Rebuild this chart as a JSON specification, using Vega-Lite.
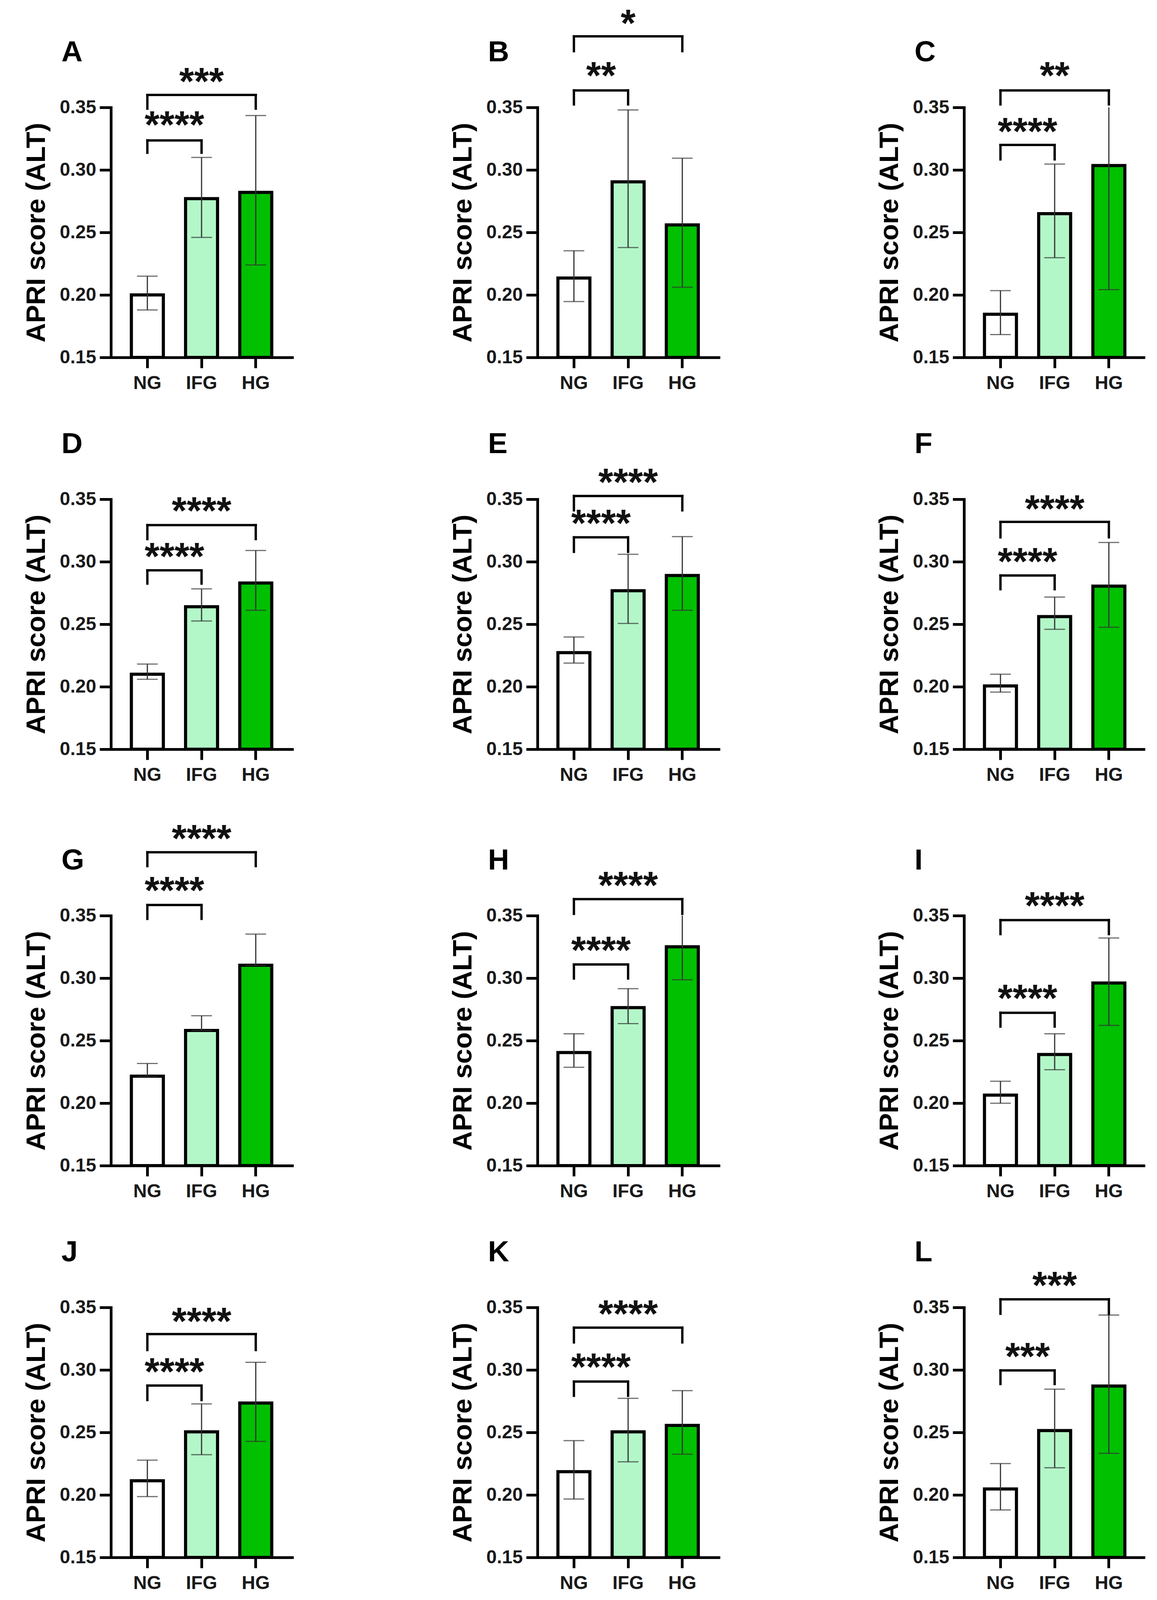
{
  "$schema": "https://vega.github.io/schema/vega-lite/v6.json",
  "background": "white",
  "padding": {"left": 59, "top": 14, "right": 0, "bottom": 0},
  "config": {
    "font": "Liberation Sans",
    "view": {"stroke": null},
    "axis": {
      "grid": false,
      "domainColor": "black",
      "domainWidth": 7,
      "domainCap": "square",
      "tickColor": "black",
      "tickWidth": 7,
      "tickSize": 29,
      "labelFont": "Liberation Sans",
      "labelFontSize": 48,
      "labelFontWeight": "bold",
      "labelColor": "#1a1a1a",
      "titleFont": "Liberation Sans",
      "titleColor": "black"
    },
    "axisX": {"labelAngle": 0, "labelPadding": 15, "tickSize": 27},
    "axisY": {"labelPadding": 9, "titleFontSize": 69, "titleFontWeight": "bold", "titlePadding": 24},
    "bar": {"stroke": "black", "strokeWidth": 8},
    "tick": {"color": "#333333", "thickness": 3},
    "rule": {"color": "black", "strokeWidth": 6, "strokeCap": "square"},
    "text": {"font": "Liberation Sans", "fontWeight": "bold", "baseline": "alphabetic", "color": "#111111"}
  },
  "datasets": {
    "panels": [
      {"panel": "A", "group": "NG", "mean": 0.200, "lo": 0.188, "hi": 0.215},
      {"panel": "A", "group": "IFG", "mean": 0.277, "lo": 0.246, "hi": 0.310},
      {"panel": "A", "group": "HG", "mean": 0.282, "lo": 0.224, "hi": 0.3435},
      {"panel": "A", "from": "NG", "to": "HG", "line": 0.360, "leg": 0.349, "stars": "***", "starY": 0.3734},
      {"panel": "A", "from": "NG", "to": "IFG", "line": 0.3236, "leg": 0.3137, "stars": "****", "starY": 0.3388},
      {"panel": "B", "group": "NG", "mean": 0.2135, "lo": 0.1947, "hi": 0.2353},
      {"panel": "B", "group": "IFG", "mean": 0.2905, "lo": 0.2379, "hi": 0.348},
      {"panel": "B", "group": "HG", "mean": 0.256, "lo": 0.2062, "hi": 0.3094},
      {"panel": "B", "from": "NG", "to": "HG", "line": 0.4069, "leg": 0.395, "stars": "*", "starY": 0.420},
      {"panel": "B", "from": "NG", "to": "IFG", "line": 0.3636, "leg": 0.3524, "stars": "**", "starY": 0.378},
      {"panel": "C", "group": "NG", "mean": 0.1845, "lo": 0.1683, "hi": 0.2034},
      {"panel": "C", "group": "IFG", "mean": 0.265, "lo": 0.2298, "hi": 0.3047},
      {"panel": "C", "group": "HG", "mean": 0.3035, "lo": 0.2042, "hi": 0.4028},
      {"panel": "C", "from": "NG", "to": "HG", "line": 0.3636, "leg": 0.3524, "stars": "**", "starY": 0.378},
      {"panel": "C", "from": "NG", "to": "IFG", "line": 0.320, "leg": 0.3084, "stars": "****", "starY": 0.3334},
      {"panel": "D", "group": "NG", "mean": 0.210, "lo": 0.2059, "hi": 0.2181},
      {"panel": "D", "group": "IFG", "mean": 0.264, "lo": 0.2526, "hi": 0.2783},
      {"panel": "D", "group": "HG", "mean": 0.283, "lo": 0.2612, "hi": 0.309},
      {"panel": "D", "from": "NG", "to": "HG", "line": 0.3293, "leg": 0.3181, "stars": "****", "starY": 0.3435},
      {"panel": "D", "from": "NG", "to": "IFG", "line": 0.2931, "leg": 0.2825, "stars": "****", "starY": 0.3069},
      {"panel": "E", "group": "NG", "mean": 0.2273, "lo": 0.2189, "hi": 0.2398},
      {"panel": "E", "group": "IFG", "mean": 0.2768, "lo": 0.2506, "hi": 0.3059},
      {"panel": "E", "group": "HG", "mean": 0.289, "lo": 0.2612, "hi": 0.3201},
      {"panel": "E", "from": "NG", "to": "HG", "line": 0.3526, "leg": 0.3411, "stars": "****", "starY": 0.3663},
      {"panel": "E", "from": "NG", "to": "IFG", "line": 0.3195, "leg": 0.3079, "stars": "****", "starY": 0.3333},
      {"panel": "F", "group": "NG", "mean": 0.2006, "lo": 0.1957, "hi": 0.210},
      {"panel": "F", "group": "IFG", "mean": 0.2561, "lo": 0.2459, "hi": 0.2717},
      {"panel": "F", "group": "HG", "mean": 0.2805, "lo": 0.2476, "hi": 0.3154},
      {"panel": "F", "from": "NG", "to": "HG", "line": 0.3319, "leg": 0.3195, "stars": "****", "starY": 0.3449},
      {"panel": "F", "from": "NG", "to": "IFG", "line": 0.289, "leg": 0.278, "stars": "****", "starY": 0.3028},
      {"panel": "G", "group": "NG", "mean": 0.2216, "lo": 0.2216, "hi": 0.2317},
      {"panel": "G", "group": "IFG", "mean": 0.2581, "lo": 0.2581, "hi": 0.2699},
      {"panel": "G", "group": "HG", "mean": 0.3103, "lo": 0.3103, "hi": 0.3352},
      {"panel": "G", "from": "NG", "to": "HG", "line": 0.4007, "leg": 0.3896, "stars": "****", "starY": 0.4143},
      {"panel": "G", "from": "NG", "to": "IFG", "line": 0.3585, "leg": 0.3474, "stars": "****", "starY": 0.3727},
      {"panel": "H", "group": "NG", "mean": 0.2405, "lo": 0.2287, "hi": 0.2555},
      {"panel": "H", "group": "IFG", "mean": 0.2764, "lo": 0.2636, "hi": 0.2916},
      {"panel": "H", "group": "HG", "mean": 0.3251, "lo": 0.2987, "hi": 0.3515},
      {"panel": "H", "from": "NG", "to": "HG", "line": 0.3632, "leg": 0.3514, "stars": "****", "starY": 0.3768},
      {"panel": "H", "from": "NG", "to": "IFG", "line": 0.3109, "leg": 0.2997, "stars": "****", "starY": 0.325},
      {"panel": "I", "group": "NG", "mean": 0.2064, "lo": 0.1999, "hi": 0.2175},
      {"panel": "I", "group": "IFG", "mean": 0.2389, "lo": 0.2267, "hi": 0.2555},
      {"panel": "I", "group": "HG", "mean": 0.2961, "lo": 0.2622, "hi": 0.3321},
      {"panel": "I", "from": "NG", "to": "HG", "line": 0.3464, "leg": 0.3352, "stars": "****", "starY": 0.3606},
      {"panel": "I", "from": "NG", "to": "IFG", "line": 0.2723, "leg": 0.2612, "stars": "****", "starY": 0.2865},
      {"panel": "J", "group": "NG", "mean": 0.2113, "lo": 0.1987, "hi": 0.2278},
      {"panel": "J", "group": "IFG", "mean": 0.2505, "lo": 0.2322, "hi": 0.2728},
      {"panel": "J", "group": "HG", "mean": 0.2735, "lo": 0.2428, "hi": 0.3061},
      {"panel": "J", "from": "NG", "to": "HG", "line": 0.3287, "leg": 0.3159, "stars": "****", "starY": 0.3415},
      {"panel": "J", "from": "NG", "to": "IFG", "line": 0.2875, "leg": 0.2759, "stars": "****", "starY": 0.3013},
      {"panel": "K", "group": "NG", "mean": 0.2186, "lo": 0.1967, "hi": 0.2434},
      {"panel": "K", "group": "IFG", "mean": 0.2505, "lo": 0.2265, "hi": 0.2773},
      {"panel": "K", "group": "HG", "mean": 0.2556, "lo": 0.2326, "hi": 0.2834},
      {"panel": "K", "from": "NG", "to": "HG", "line": 0.3338, "leg": 0.322, "stars": "****", "starY": 0.3476},
      {"panel": "K", "from": "NG", "to": "IFG", "line": 0.2907, "leg": 0.2793, "stars": "****", "starY": 0.3049},
      {"panel": "L", "group": "NG", "mean": 0.2048, "lo": 0.188, "hi": 0.2251},
      {"panel": "L", "group": "IFG", "mean": 0.2515, "lo": 0.2217, "hi": 0.2846},
      {"panel": "L", "group": "HG", "mean": 0.2871, "lo": 0.2333, "hi": 0.3439},
      {"panel": "L", "from": "NG", "to": "HG", "line": 0.3565, "leg": 0.3449, "stars": "***", "starY": 0.3703},
      {"panel": "L", "from": "NG", "to": "IFG", "line": 0.2996, "leg": 0.2887, "stars": "***", "starY": 0.3135}
    ]
  },
  "data": {"name": "panels"},
  "spacing": 94,
  "vconcat": [
    {"bounds": "flush", "spacing": 628, "hconcat": [
      {"transform": [{"filter": {"field": "panel", "equal": "A"}}], "width": 464, "height": 640, "layer": [
        {"transform": [{"filter": "isValid(datum.mean)"}], "mark": "bar", "encoding": {"x": {"field": "group", "type": "nominal", "title": null, "scale": {"domain": ["NG", "IFG", "HG"], "paddingInner": 0.41, "paddingOuter": 0.377}}, "y": {"field": "mean", "type": "quantitative", "title": "APRI score (ALT)", "scale": {"domain": [0.15, 0.35], "zero": false, "nice": false}, "axis": {"values": [0.15, 0.2, 0.25, 0.3, 0.35], "format": ".2f"}}, "y2": {"datum": 0.15}, "fill": {"field": "group", "type": "nominal", "scale": {"domain": ["NG", "IFG", "HG"], "range": ["#ffffff", "#b3f7c8", "#00c000"]}, "legend": null}}},
        {"transform": [{"filter": "isValid(datum.mean)"}], "mark": {"type": "rule", "color": "#333333", "strokeWidth": 3, "strokeCap": "butt", "clip": true}, "encoding": {"x": {"field": "group", "type": "nominal", "scale": {"domain": ["NG", "IFG", "HG"]}}, "y": {"field": "lo", "type": "quantitative"}, "y2": {"field": "hi"}}},
        {"transform": [{"filter": "isValid(datum.mean)"}, {"fold": ["lo", "hi"], "as": ["end", "val"]}], "mark": {"type": "tick", "size": 53, "clip": true}, "encoding": {"x": {"field": "group", "type": "nominal", "scale": {"domain": ["NG", "IFG", "HG"]}}, "y": {"field": "val", "type": "quantitative"}}},
        {"transform": [{"filter": "isValid(datum.line)"}], "mark": "rule", "encoding": {"x": {"field": "from", "type": "nominal", "scale": {"domain": ["NG", "IFG", "HG"]}}, "x2": {"field": "to"}, "y": {"field": "line", "type": "quantitative"}}},
        {"transform": [{"filter": "isValid(datum.line)"}, {"fold": ["from", "to"], "as": ["end", "grp"]}], "mark": "rule", "encoding": {"x": {"field": "grp", "type": "nominal", "scale": {"domain": ["NG", "IFG", "HG"]}}, "y": {"field": "line", "type": "quantitative"}, "y2": {"field": "leg"}}},
        {"transform": [{"filter": "datum.to === 'HG'"}], "mark": {"type": "text", "fontSize": 98, "align": "center", "dx": 138.8, "dy": 42}, "encoding": {"x": {"field": "from", "type": "nominal", "scale": {"domain": ["NG", "IFG", "HG"]}}, "y": {"field": "starY", "type": "quantitative"}, "text": {"field": "stars"}}},
        {"transform": [{"filter": "datum.to === 'IFG'"}], "mark": {"type": "text", "fontSize": 98, "align": "center", "dx": 69.4, "dy": 42}, "encoding": {"x": {"field": "from", "type": "nominal", "scale": {"domain": ["NG", "IFG", "HG"]}}, "y": {"field": "starY", "type": "quantitative"}, "text": {"field": "stars"}}},
        {"transform": [{"filter": "datum.group === 'NG'"}], "mark": {"type": "text", "fontSize": 75, "align": "left", "color": "black", "dx": -220}, "encoding": {"x": {"field": "group", "type": "nominal", "scale": {"domain": ["NG", "IFG", "HG"]}}, "y": {"datum": 0.387}, "text": {"field": "panel"}}}
      ]},
      {"transform": [{"filter": {"field": "panel", "equal": "B"}}], "width": 464, "height": 640, "layer": [
        {"transform": [{"filter": "isValid(datum.mean)"}], "mark": "bar", "encoding": {"x": {"field": "group", "type": "nominal", "title": null, "scale": {"domain": ["NG", "IFG", "HG"], "paddingInner": 0.41, "paddingOuter": 0.377}}, "y": {"field": "mean", "type": "quantitative", "title": "APRI score (ALT)", "scale": {"domain": [0.15, 0.35], "zero": false, "nice": false}, "axis": {"values": [0.15, 0.2, 0.25, 0.3, 0.35], "format": ".2f"}}, "y2": {"datum": 0.15}, "fill": {"field": "group", "type": "nominal", "scale": {"domain": ["NG", "IFG", "HG"], "range": ["#ffffff", "#b3f7c8", "#00c000"]}, "legend": null}}},
        {"transform": [{"filter": "isValid(datum.mean)"}], "mark": {"type": "rule", "color": "#333333", "strokeWidth": 3, "strokeCap": "butt", "clip": true}, "encoding": {"x": {"field": "group", "type": "nominal", "scale": {"domain": ["NG", "IFG", "HG"]}}, "y": {"field": "lo", "type": "quantitative"}, "y2": {"field": "hi"}}},
        {"transform": [{"filter": "isValid(datum.mean)"}, {"fold": ["lo", "hi"], "as": ["end", "val"]}], "mark": {"type": "tick", "size": 53, "clip": true}, "encoding": {"x": {"field": "group", "type": "nominal", "scale": {"domain": ["NG", "IFG", "HG"]}}, "y": {"field": "val", "type": "quantitative"}}},
        {"transform": [{"filter": "isValid(datum.line)"}], "mark": "rule", "encoding": {"x": {"field": "from", "type": "nominal", "scale": {"domain": ["NG", "IFG", "HG"]}}, "x2": {"field": "to"}, "y": {"field": "line", "type": "quantitative"}}},
        {"transform": [{"filter": "isValid(datum.line)"}, {"fold": ["from", "to"], "as": ["end", "grp"]}], "mark": "rule", "encoding": {"x": {"field": "grp", "type": "nominal", "scale": {"domain": ["NG", "IFG", "HG"]}}, "y": {"field": "line", "type": "quantitative"}, "y2": {"field": "leg"}}},
        {"transform": [{"filter": "datum.to === 'HG'"}], "mark": {"type": "text", "fontSize": 98, "align": "center", "dx": 138.8, "dy": 42}, "encoding": {"x": {"field": "from", "type": "nominal", "scale": {"domain": ["NG", "IFG", "HG"]}}, "y": {"field": "starY", "type": "quantitative"}, "text": {"field": "stars"}}},
        {"transform": [{"filter": "datum.to === 'IFG'"}], "mark": {"type": "text", "fontSize": 98, "align": "center", "dx": 69.4, "dy": 42}, "encoding": {"x": {"field": "from", "type": "nominal", "scale": {"domain": ["NG", "IFG", "HG"]}}, "y": {"field": "starY", "type": "quantitative"}, "text": {"field": "stars"}}},
        {"transform": [{"filter": "datum.group === 'NG'"}], "mark": {"type": "text", "fontSize": 75, "align": "left", "color": "black", "dx": -220}, "encoding": {"x": {"field": "group", "type": "nominal", "scale": {"domain": ["NG", "IFG", "HG"]}}, "y": {"datum": 0.387}, "text": {"field": "panel"}}}
      ]},
      {"transform": [{"filter": {"field": "panel", "equal": "C"}}], "width": 464, "height": 640, "layer": [
        {"transform": [{"filter": "isValid(datum.mean)"}], "mark": "bar", "encoding": {"x": {"field": "group", "type": "nominal", "title": null, "scale": {"domain": ["NG", "IFG", "HG"], "paddingInner": 0.41, "paddingOuter": 0.377}}, "y": {"field": "mean", "type": "quantitative", "title": "APRI score (ALT)", "scale": {"domain": [0.15, 0.35], "zero": false, "nice": false}, "axis": {"values": [0.15, 0.2, 0.25, 0.3, 0.35], "format": ".2f"}}, "y2": {"datum": 0.15}, "fill": {"field": "group", "type": "nominal", "scale": {"domain": ["NG", "IFG", "HG"], "range": ["#ffffff", "#b3f7c8", "#00c000"]}, "legend": null}}},
        {"transform": [{"filter": "isValid(datum.mean)"}], "mark": {"type": "rule", "color": "#333333", "strokeWidth": 3, "strokeCap": "butt", "clip": true}, "encoding": {"x": {"field": "group", "type": "nominal", "scale": {"domain": ["NG", "IFG", "HG"]}}, "y": {"field": "lo", "type": "quantitative"}, "y2": {"field": "hi"}}},
        {"transform": [{"filter": "isValid(datum.mean)"}, {"fold": ["lo", "hi"], "as": ["end", "val"]}], "mark": {"type": "tick", "size": 53, "clip": true}, "encoding": {"x": {"field": "group", "type": "nominal", "scale": {"domain": ["NG", "IFG", "HG"]}}, "y": {"field": "val", "type": "quantitative"}}},
        {"transform": [{"filter": "isValid(datum.line)"}], "mark": "rule", "encoding": {"x": {"field": "from", "type": "nominal", "scale": {"domain": ["NG", "IFG", "HG"]}}, "x2": {"field": "to"}, "y": {"field": "line", "type": "quantitative"}}},
        {"transform": [{"filter": "isValid(datum.line)"}, {"fold": ["from", "to"], "as": ["end", "grp"]}], "mark": "rule", "encoding": {"x": {"field": "grp", "type": "nominal", "scale": {"domain": ["NG", "IFG", "HG"]}}, "y": {"field": "line", "type": "quantitative"}, "y2": {"field": "leg"}}},
        {"transform": [{"filter": "datum.to === 'HG'"}], "mark": {"type": "text", "fontSize": 98, "align": "center", "dx": 138.8, "dy": 42}, "encoding": {"x": {"field": "from", "type": "nominal", "scale": {"domain": ["NG", "IFG", "HG"]}}, "y": {"field": "starY", "type": "quantitative"}, "text": {"field": "stars"}}},
        {"transform": [{"filter": "datum.to === 'IFG'"}], "mark": {"type": "text", "fontSize": 98, "align": "center", "dx": 69.4, "dy": 42}, "encoding": {"x": {"field": "from", "type": "nominal", "scale": {"domain": ["NG", "IFG", "HG"]}}, "y": {"field": "starY", "type": "quantitative"}, "text": {"field": "stars"}}},
        {"transform": [{"filter": "datum.group === 'NG'"}], "mark": {"type": "text", "fontSize": 75, "align": "left", "color": "black", "dx": -220}, "encoding": {"x": {"field": "group", "type": "nominal", "scale": {"domain": ["NG", "IFG", "HG"]}}, "y": {"datum": 0.387}, "text": {"field": "panel"}}}
      ]}
    ]},
    {"bounds": "flush", "spacing": 628, "hconcat": [
      {"transform": [{"filter": {"field": "panel", "equal": "D"}}], "width": 464, "height": 640, "layer": [
        {"transform": [{"filter": "isValid(datum.mean)"}], "mark": "bar", "encoding": {"x": {"field": "group", "type": "nominal", "title": null, "scale": {"domain": ["NG", "IFG", "HG"], "paddingInner": 0.41, "paddingOuter": 0.377}}, "y": {"field": "mean", "type": "quantitative", "title": "APRI score (ALT)", "scale": {"domain": [0.15, 0.35], "zero": false, "nice": false}, "axis": {"values": [0.15, 0.2, 0.25, 0.3, 0.35], "format": ".2f"}}, "y2": {"datum": 0.15}, "fill": {"field": "group", "type": "nominal", "scale": {"domain": ["NG", "IFG", "HG"], "range": ["#ffffff", "#b3f7c8", "#00c000"]}, "legend": null}}},
        {"transform": [{"filter": "isValid(datum.mean)"}], "mark": {"type": "rule", "color": "#333333", "strokeWidth": 3, "strokeCap": "butt", "clip": true}, "encoding": {"x": {"field": "group", "type": "nominal", "scale": {"domain": ["NG", "IFG", "HG"]}}, "y": {"field": "lo", "type": "quantitative"}, "y2": {"field": "hi"}}},
        {"transform": [{"filter": "isValid(datum.mean)"}, {"fold": ["lo", "hi"], "as": ["end", "val"]}], "mark": {"type": "tick", "size": 53, "clip": true}, "encoding": {"x": {"field": "group", "type": "nominal", "scale": {"domain": ["NG", "IFG", "HG"]}}, "y": {"field": "val", "type": "quantitative"}}},
        {"transform": [{"filter": "isValid(datum.line)"}], "mark": "rule", "encoding": {"x": {"field": "from", "type": "nominal", "scale": {"domain": ["NG", "IFG", "HG"]}}, "x2": {"field": "to"}, "y": {"field": "line", "type": "quantitative"}}},
        {"transform": [{"filter": "isValid(datum.line)"}, {"fold": ["from", "to"], "as": ["end", "grp"]}], "mark": "rule", "encoding": {"x": {"field": "grp", "type": "nominal", "scale": {"domain": ["NG", "IFG", "HG"]}}, "y": {"field": "line", "type": "quantitative"}, "y2": {"field": "leg"}}},
        {"transform": [{"filter": "datum.to === 'HG'"}], "mark": {"type": "text", "fontSize": 98, "align": "center", "dx": 138.8, "dy": 42}, "encoding": {"x": {"field": "from", "type": "nominal", "scale": {"domain": ["NG", "IFG", "HG"]}}, "y": {"field": "starY", "type": "quantitative"}, "text": {"field": "stars"}}},
        {"transform": [{"filter": "datum.to === 'IFG'"}], "mark": {"type": "text", "fontSize": 98, "align": "center", "dx": 69.4, "dy": 42}, "encoding": {"x": {"field": "from", "type": "nominal", "scale": {"domain": ["NG", "IFG", "HG"]}}, "y": {"field": "starY", "type": "quantitative"}, "text": {"field": "stars"}}},
        {"transform": [{"filter": "datum.group === 'NG'"}], "mark": {"type": "text", "fontSize": 75, "align": "left", "color": "black", "dx": -220}, "encoding": {"x": {"field": "group", "type": "nominal", "scale": {"domain": ["NG", "IFG", "HG"]}}, "y": {"datum": 0.387}, "text": {"field": "panel"}}}
      ]},
      {"transform": [{"filter": {"field": "panel", "equal": "E"}}], "width": 464, "height": 640, "layer": [
        {"transform": [{"filter": "isValid(datum.mean)"}], "mark": "bar", "encoding": {"x": {"field": "group", "type": "nominal", "title": null, "scale": {"domain": ["NG", "IFG", "HG"], "paddingInner": 0.41, "paddingOuter": 0.377}}, "y": {"field": "mean", "type": "quantitative", "title": "APRI score (ALT)", "scale": {"domain": [0.15, 0.35], "zero": false, "nice": false}, "axis": {"values": [0.15, 0.2, 0.25, 0.3, 0.35], "format": ".2f"}}, "y2": {"datum": 0.15}, "fill": {"field": "group", "type": "nominal", "scale": {"domain": ["NG", "IFG", "HG"], "range": ["#ffffff", "#b3f7c8", "#00c000"]}, "legend": null}}},
        {"transform": [{"filter": "isValid(datum.mean)"}], "mark": {"type": "rule", "color": "#333333", "strokeWidth": 3, "strokeCap": "butt", "clip": true}, "encoding": {"x": {"field": "group", "type": "nominal", "scale": {"domain": ["NG", "IFG", "HG"]}}, "y": {"field": "lo", "type": "quantitative"}, "y2": {"field": "hi"}}},
        {"transform": [{"filter": "isValid(datum.mean)"}, {"fold": ["lo", "hi"], "as": ["end", "val"]}], "mark": {"type": "tick", "size": 53, "clip": true}, "encoding": {"x": {"field": "group", "type": "nominal", "scale": {"domain": ["NG", "IFG", "HG"]}}, "y": {"field": "val", "type": "quantitative"}}},
        {"transform": [{"filter": "isValid(datum.line)"}], "mark": "rule", "encoding": {"x": {"field": "from", "type": "nominal", "scale": {"domain": ["NG", "IFG", "HG"]}}, "x2": {"field": "to"}, "y": {"field": "line", "type": "quantitative"}}},
        {"transform": [{"filter": "isValid(datum.line)"}, {"fold": ["from", "to"], "as": ["end", "grp"]}], "mark": "rule", "encoding": {"x": {"field": "grp", "type": "nominal", "scale": {"domain": ["NG", "IFG", "HG"]}}, "y": {"field": "line", "type": "quantitative"}, "y2": {"field": "leg"}}},
        {"transform": [{"filter": "datum.to === 'HG'"}], "mark": {"type": "text", "fontSize": 98, "align": "center", "dx": 138.8, "dy": 42}, "encoding": {"x": {"field": "from", "type": "nominal", "scale": {"domain": ["NG", "IFG", "HG"]}}, "y": {"field": "starY", "type": "quantitative"}, "text": {"field": "stars"}}},
        {"transform": [{"filter": "datum.to === 'IFG'"}], "mark": {"type": "text", "fontSize": 98, "align": "center", "dx": 69.4, "dy": 42}, "encoding": {"x": {"field": "from", "type": "nominal", "scale": {"domain": ["NG", "IFG", "HG"]}}, "y": {"field": "starY", "type": "quantitative"}, "text": {"field": "stars"}}},
        {"transform": [{"filter": "datum.group === 'NG'"}], "mark": {"type": "text", "fontSize": 75, "align": "left", "color": "black", "dx": -220}, "encoding": {"x": {"field": "group", "type": "nominal", "scale": {"domain": ["NG", "IFG", "HG"]}}, "y": {"datum": 0.387}, "text": {"field": "panel"}}}
      ]},
      {"transform": [{"filter": {"field": "panel", "equal": "F"}}], "width": 464, "height": 640, "layer": [
        {"transform": [{"filter": "isValid(datum.mean)"}], "mark": "bar", "encoding": {"x": {"field": "group", "type": "nominal", "title": null, "scale": {"domain": ["NG", "IFG", "HG"], "paddingInner": 0.41, "paddingOuter": 0.377}}, "y": {"field": "mean", "type": "quantitative", "title": "APRI score (ALT)", "scale": {"domain": [0.15, 0.35], "zero": false, "nice": false}, "axis": {"values": [0.15, 0.2, 0.25, 0.3, 0.35], "format": ".2f"}}, "y2": {"datum": 0.15}, "fill": {"field": "group", "type": "nominal", "scale": {"domain": ["NG", "IFG", "HG"], "range": ["#ffffff", "#b3f7c8", "#00c000"]}, "legend": null}}},
        {"transform": [{"filter": "isValid(datum.mean)"}], "mark": {"type": "rule", "color": "#333333", "strokeWidth": 3, "strokeCap": "butt", "clip": true}, "encoding": {"x": {"field": "group", "type": "nominal", "scale": {"domain": ["NG", "IFG", "HG"]}}, "y": {"field": "lo", "type": "quantitative"}, "y2": {"field": "hi"}}},
        {"transform": [{"filter": "isValid(datum.mean)"}, {"fold": ["lo", "hi"], "as": ["end", "val"]}], "mark": {"type": "tick", "size": 53, "clip": true}, "encoding": {"x": {"field": "group", "type": "nominal", "scale": {"domain": ["NG", "IFG", "HG"]}}, "y": {"field": "val", "type": "quantitative"}}},
        {"transform": [{"filter": "isValid(datum.line)"}], "mark": "rule", "encoding": {"x": {"field": "from", "type": "nominal", "scale": {"domain": ["NG", "IFG", "HG"]}}, "x2": {"field": "to"}, "y": {"field": "line", "type": "quantitative"}}},
        {"transform": [{"filter": "isValid(datum.line)"}, {"fold": ["from", "to"], "as": ["end", "grp"]}], "mark": "rule", "encoding": {"x": {"field": "grp", "type": "nominal", "scale": {"domain": ["NG", "IFG", "HG"]}}, "y": {"field": "line", "type": "quantitative"}, "y2": {"field": "leg"}}},
        {"transform": [{"filter": "datum.to === 'HG'"}], "mark": {"type": "text", "fontSize": 98, "align": "center", "dx": 138.8, "dy": 42}, "encoding": {"x": {"field": "from", "type": "nominal", "scale": {"domain": ["NG", "IFG", "HG"]}}, "y": {"field": "starY", "type": "quantitative"}, "text": {"field": "stars"}}},
        {"transform": [{"filter": "datum.to === 'IFG'"}], "mark": {"type": "text", "fontSize": 98, "align": "center", "dx": 69.4, "dy": 42}, "encoding": {"x": {"field": "from", "type": "nominal", "scale": {"domain": ["NG", "IFG", "HG"]}}, "y": {"field": "starY", "type": "quantitative"}, "text": {"field": "stars"}}},
        {"transform": [{"filter": "datum.group === 'NG'"}], "mark": {"type": "text", "fontSize": 75, "align": "left", "color": "black", "dx": -220}, "encoding": {"x": {"field": "group", "type": "nominal", "scale": {"domain": ["NG", "IFG", "HG"]}}, "y": {"datum": 0.387}, "text": {"field": "panel"}}}
      ]}
    ]},
    {"bounds": "flush", "spacing": 628, "hconcat": [
      {"transform": [{"filter": {"field": "panel", "equal": "G"}}], "width": 464, "height": 640, "layer": [
        {"transform": [{"filter": "isValid(datum.mean)"}], "mark": "bar", "encoding": {"x": {"field": "group", "type": "nominal", "title": null, "scale": {"domain": ["NG", "IFG", "HG"], "paddingInner": 0.41, "paddingOuter": 0.377}}, "y": {"field": "mean", "type": "quantitative", "title": "APRI score (ALT)", "scale": {"domain": [0.15, 0.35], "zero": false, "nice": false}, "axis": {"values": [0.15, 0.2, 0.25, 0.3, 0.35], "format": ".2f"}}, "y2": {"datum": 0.15}, "fill": {"field": "group", "type": "nominal", "scale": {"domain": ["NG", "IFG", "HG"], "range": ["#ffffff", "#b3f7c8", "#00c000"]}, "legend": null}}},
        {"transform": [{"filter": "isValid(datum.mean)"}], "mark": {"type": "rule", "color": "#333333", "strokeWidth": 3, "strokeCap": "butt", "clip": true}, "encoding": {"x": {"field": "group", "type": "nominal", "scale": {"domain": ["NG", "IFG", "HG"]}}, "y": {"field": "lo", "type": "quantitative"}, "y2": {"field": "hi"}}},
        {"transform": [{"filter": "isValid(datum.mean)"}, {"fold": ["lo", "hi"], "as": ["end", "val"]}], "mark": {"type": "tick", "size": 53, "clip": true}, "encoding": {"x": {"field": "group", "type": "nominal", "scale": {"domain": ["NG", "IFG", "HG"]}}, "y": {"field": "val", "type": "quantitative"}}},
        {"transform": [{"filter": "isValid(datum.line)"}], "mark": "rule", "encoding": {"x": {"field": "from", "type": "nominal", "scale": {"domain": ["NG", "IFG", "HG"]}}, "x2": {"field": "to"}, "y": {"field": "line", "type": "quantitative"}}},
        {"transform": [{"filter": "isValid(datum.line)"}, {"fold": ["from", "to"], "as": ["end", "grp"]}], "mark": "rule", "encoding": {"x": {"field": "grp", "type": "nominal", "scale": {"domain": ["NG", "IFG", "HG"]}}, "y": {"field": "line", "type": "quantitative"}, "y2": {"field": "leg"}}},
        {"transform": [{"filter": "datum.to === 'HG'"}], "mark": {"type": "text", "fontSize": 98, "align": "center", "dx": 138.8, "dy": 42}, "encoding": {"x": {"field": "from", "type": "nominal", "scale": {"domain": ["NG", "IFG", "HG"]}}, "y": {"field": "starY", "type": "quantitative"}, "text": {"field": "stars"}}},
        {"transform": [{"filter": "datum.to === 'IFG'"}], "mark": {"type": "text", "fontSize": 98, "align": "center", "dx": 69.4, "dy": 42}, "encoding": {"x": {"field": "from", "type": "nominal", "scale": {"domain": ["NG", "IFG", "HG"]}}, "y": {"field": "starY", "type": "quantitative"}, "text": {"field": "stars"}}},
        {"transform": [{"filter": "datum.group === 'NG'"}], "mark": {"type": "text", "fontSize": 75, "align": "left", "color": "black", "dx": -220}, "encoding": {"x": {"field": "group", "type": "nominal", "scale": {"domain": ["NG", "IFG", "HG"]}}, "y": {"datum": 0.387}, "text": {"field": "panel"}}}
      ]},
      {"transform": [{"filter": {"field": "panel", "equal": "H"}}], "width": 464, "height": 640, "layer": [
        {"transform": [{"filter": "isValid(datum.mean)"}], "mark": "bar", "encoding": {"x": {"field": "group", "type": "nominal", "title": null, "scale": {"domain": ["NG", "IFG", "HG"], "paddingInner": 0.41, "paddingOuter": 0.377}}, "y": {"field": "mean", "type": "quantitative", "title": "APRI score (ALT)", "scale": {"domain": [0.15, 0.35], "zero": false, "nice": false}, "axis": {"values": [0.15, 0.2, 0.25, 0.3, 0.35], "format": ".2f"}}, "y2": {"datum": 0.15}, "fill": {"field": "group", "type": "nominal", "scale": {"domain": ["NG", "IFG", "HG"], "range": ["#ffffff", "#b3f7c8", "#00c000"]}, "legend": null}}},
        {"transform": [{"filter": "isValid(datum.mean)"}], "mark": {"type": "rule", "color": "#333333", "strokeWidth": 3, "strokeCap": "butt", "clip": true}, "encoding": {"x": {"field": "group", "type": "nominal", "scale": {"domain": ["NG", "IFG", "HG"]}}, "y": {"field": "lo", "type": "quantitative"}, "y2": {"field": "hi"}}},
        {"transform": [{"filter": "isValid(datum.mean)"}, {"fold": ["lo", "hi"], "as": ["end", "val"]}], "mark": {"type": "tick", "size": 53, "clip": true}, "encoding": {"x": {"field": "group", "type": "nominal", "scale": {"domain": ["NG", "IFG", "HG"]}}, "y": {"field": "val", "type": "quantitative"}}},
        {"transform": [{"filter": "isValid(datum.line)"}], "mark": "rule", "encoding": {"x": {"field": "from", "type": "nominal", "scale": {"domain": ["NG", "IFG", "HG"]}}, "x2": {"field": "to"}, "y": {"field": "line", "type": "quantitative"}}},
        {"transform": [{"filter": "isValid(datum.line)"}, {"fold": ["from", "to"], "as": ["end", "grp"]}], "mark": "rule", "encoding": {"x": {"field": "grp", "type": "nominal", "scale": {"domain": ["NG", "IFG", "HG"]}}, "y": {"field": "line", "type": "quantitative"}, "y2": {"field": "leg"}}},
        {"transform": [{"filter": "datum.to === 'HG'"}], "mark": {"type": "text", "fontSize": 98, "align": "center", "dx": 138.8, "dy": 42}, "encoding": {"x": {"field": "from", "type": "nominal", "scale": {"domain": ["NG", "IFG", "HG"]}}, "y": {"field": "starY", "type": "quantitative"}, "text": {"field": "stars"}}},
        {"transform": [{"filter": "datum.to === 'IFG'"}], "mark": {"type": "text", "fontSize": 98, "align": "center", "dx": 69.4, "dy": 42}, "encoding": {"x": {"field": "from", "type": "nominal", "scale": {"domain": ["NG", "IFG", "HG"]}}, "y": {"field": "starY", "type": "quantitative"}, "text": {"field": "stars"}}},
        {"transform": [{"filter": "datum.group === 'NG'"}], "mark": {"type": "text", "fontSize": 75, "align": "left", "color": "black", "dx": -220}, "encoding": {"x": {"field": "group", "type": "nominal", "scale": {"domain": ["NG", "IFG", "HG"]}}, "y": {"datum": 0.387}, "text": {"field": "panel"}}}
      ]},
      {"transform": [{"filter": {"field": "panel", "equal": "I"}}], "width": 464, "height": 640, "layer": [
        {"transform": [{"filter": "isValid(datum.mean)"}], "mark": "bar", "encoding": {"x": {"field": "group", "type": "nominal", "title": null, "scale": {"domain": ["NG", "IFG", "HG"], "paddingInner": 0.41, "paddingOuter": 0.377}}, "y": {"field": "mean", "type": "quantitative", "title": "APRI score (ALT)", "scale": {"domain": [0.15, 0.35], "zero": false, "nice": false}, "axis": {"values": [0.15, 0.2, 0.25, 0.3, 0.35], "format": ".2f"}}, "y2": {"datum": 0.15}, "fill": {"field": "group", "type": "nominal", "scale": {"domain": ["NG", "IFG", "HG"], "range": ["#ffffff", "#b3f7c8", "#00c000"]}, "legend": null}}},
        {"transform": [{"filter": "isValid(datum.mean)"}], "mark": {"type": "rule", "color": "#333333", "strokeWidth": 3, "strokeCap": "butt", "clip": true}, "encoding": {"x": {"field": "group", "type": "nominal", "scale": {"domain": ["NG", "IFG", "HG"]}}, "y": {"field": "lo", "type": "quantitative"}, "y2": {"field": "hi"}}},
        {"transform": [{"filter": "isValid(datum.mean)"}, {"fold": ["lo", "hi"], "as": ["end", "val"]}], "mark": {"type": "tick", "size": 53, "clip": true}, "encoding": {"x": {"field": "group", "type": "nominal", "scale": {"domain": ["NG", "IFG", "HG"]}}, "y": {"field": "val", "type": "quantitative"}}},
        {"transform": [{"filter": "isValid(datum.line)"}], "mark": "rule", "encoding": {"x": {"field": "from", "type": "nominal", "scale": {"domain": ["NG", "IFG", "HG"]}}, "x2": {"field": "to"}, "y": {"field": "line", "type": "quantitative"}}},
        {"transform": [{"filter": "isValid(datum.line)"}, {"fold": ["from", "to"], "as": ["end", "grp"]}], "mark": "rule", "encoding": {"x": {"field": "grp", "type": "nominal", "scale": {"domain": ["NG", "IFG", "HG"]}}, "y": {"field": "line", "type": "quantitative"}, "y2": {"field": "leg"}}},
        {"transform": [{"filter": "datum.to === 'HG'"}], "mark": {"type": "text", "fontSize": 98, "align": "center", "dx": 138.8, "dy": 42}, "encoding": {"x": {"field": "from", "type": "nominal", "scale": {"domain": ["NG", "IFG", "HG"]}}, "y": {"field": "starY", "type": "quantitative"}, "text": {"field": "stars"}}},
        {"transform": [{"filter": "datum.to === 'IFG'"}], "mark": {"type": "text", "fontSize": 98, "align": "center", "dx": 69.4, "dy": 42}, "encoding": {"x": {"field": "from", "type": "nominal", "scale": {"domain": ["NG", "IFG", "HG"]}}, "y": {"field": "starY", "type": "quantitative"}, "text": {"field": "stars"}}},
        {"transform": [{"filter": "datum.group === 'NG'"}], "mark": {"type": "text", "fontSize": 75, "align": "left", "color": "black", "dx": -220}, "encoding": {"x": {"field": "group", "type": "nominal", "scale": {"domain": ["NG", "IFG", "HG"]}}, "y": {"datum": 0.387}, "text": {"field": "panel"}}}
      ]}
    ]},
    {"bounds": "flush", "spacing": 628, "hconcat": [
      {"transform": [{"filter": {"field": "panel", "equal": "J"}}], "width": 464, "height": 640, "layer": [
        {"transform": [{"filter": "isValid(datum.mean)"}], "mark": "bar", "encoding": {"x": {"field": "group", "type": "nominal", "title": null, "scale": {"domain": ["NG", "IFG", "HG"], "paddingInner": 0.41, "paddingOuter": 0.377}}, "y": {"field": "mean", "type": "quantitative", "title": "APRI score (ALT)", "scale": {"domain": [0.15, 0.35], "zero": false, "nice": false}, "axis": {"values": [0.15, 0.2, 0.25, 0.3, 0.35], "format": ".2f"}}, "y2": {"datum": 0.15}, "fill": {"field": "group", "type": "nominal", "scale": {"domain": ["NG", "IFG", "HG"], "range": ["#ffffff", "#b3f7c8", "#00c000"]}, "legend": null}}},
        {"transform": [{"filter": "isValid(datum.mean)"}], "mark": {"type": "rule", "color": "#333333", "strokeWidth": 3, "strokeCap": "butt", "clip": true}, "encoding": {"x": {"field": "group", "type": "nominal", "scale": {"domain": ["NG", "IFG", "HG"]}}, "y": {"field": "lo", "type": "quantitative"}, "y2": {"field": "hi"}}},
        {"transform": [{"filter": "isValid(datum.mean)"}, {"fold": ["lo", "hi"], "as": ["end", "val"]}], "mark": {"type": "tick", "size": 53, "clip": true}, "encoding": {"x": {"field": "group", "type": "nominal", "scale": {"domain": ["NG", "IFG", "HG"]}}, "y": {"field": "val", "type": "quantitative"}}},
        {"transform": [{"filter": "isValid(datum.line)"}], "mark": "rule", "encoding": {"x": {"field": "from", "type": "nominal", "scale": {"domain": ["NG", "IFG", "HG"]}}, "x2": {"field": "to"}, "y": {"field": "line", "type": "quantitative"}}},
        {"transform": [{"filter": "isValid(datum.line)"}, {"fold": ["from", "to"], "as": ["end", "grp"]}], "mark": "rule", "encoding": {"x": {"field": "grp", "type": "nominal", "scale": {"domain": ["NG", "IFG", "HG"]}}, "y": {"field": "line", "type": "quantitative"}, "y2": {"field": "leg"}}},
        {"transform": [{"filter": "datum.to === 'HG'"}], "mark": {"type": "text", "fontSize": 98, "align": "center", "dx": 138.8, "dy": 42}, "encoding": {"x": {"field": "from", "type": "nominal", "scale": {"domain": ["NG", "IFG", "HG"]}}, "y": {"field": "starY", "type": "quantitative"}, "text": {"field": "stars"}}},
        {"transform": [{"filter": "datum.to === 'IFG'"}], "mark": {"type": "text", "fontSize": 98, "align": "center", "dx": 69.4, "dy": 42}, "encoding": {"x": {"field": "from", "type": "nominal", "scale": {"domain": ["NG", "IFG", "HG"]}}, "y": {"field": "starY", "type": "quantitative"}, "text": {"field": "stars"}}},
        {"transform": [{"filter": "datum.group === 'NG'"}], "mark": {"type": "text", "fontSize": 75, "align": "left", "color": "black", "dx": -220}, "encoding": {"x": {"field": "group", "type": "nominal", "scale": {"domain": ["NG", "IFG", "HG"]}}, "y": {"datum": 0.387}, "text": {"field": "panel"}}}
      ]},
      {"transform": [{"filter": {"field": "panel", "equal": "K"}}], "width": 464, "height": 640, "layer": [
        {"transform": [{"filter": "isValid(datum.mean)"}], "mark": "bar", "encoding": {"x": {"field": "group", "type": "nominal", "title": null, "scale": {"domain": ["NG", "IFG", "HG"], "paddingInner": 0.41, "paddingOuter": 0.377}}, "y": {"field": "mean", "type": "quantitative", "title": "APRI score (ALT)", "scale": {"domain": [0.15, 0.35], "zero": false, "nice": false}, "axis": {"values": [0.15, 0.2, 0.25, 0.3, 0.35], "format": ".2f"}}, "y2": {"datum": 0.15}, "fill": {"field": "group", "type": "nominal", "scale": {"domain": ["NG", "IFG", "HG"], "range": ["#ffffff", "#b3f7c8", "#00c000"]}, "legend": null}}},
        {"transform": [{"filter": "isValid(datum.mean)"}], "mark": {"type": "rule", "color": "#333333", "strokeWidth": 3, "strokeCap": "butt", "clip": true}, "encoding": {"x": {"field": "group", "type": "nominal", "scale": {"domain": ["NG", "IFG", "HG"]}}, "y": {"field": "lo", "type": "quantitative"}, "y2": {"field": "hi"}}},
        {"transform": [{"filter": "isValid(datum.mean)"}, {"fold": ["lo", "hi"], "as": ["end", "val"]}], "mark": {"type": "tick", "size": 53, "clip": true}, "encoding": {"x": {"field": "group", "type": "nominal", "scale": {"domain": ["NG", "IFG", "HG"]}}, "y": {"field": "val", "type": "quantitative"}}},
        {"transform": [{"filter": "isValid(datum.line)"}], "mark": "rule", "encoding": {"x": {"field": "from", "type": "nominal", "scale": {"domain": ["NG", "IFG", "HG"]}}, "x2": {"field": "to"}, "y": {"field": "line", "type": "quantitative"}}},
        {"transform": [{"filter": "isValid(datum.line)"}, {"fold": ["from", "to"], "as": ["end", "grp"]}], "mark": "rule", "encoding": {"x": {"field": "grp", "type": "nominal", "scale": {"domain": ["NG", "IFG", "HG"]}}, "y": {"field": "line", "type": "quantitative"}, "y2": {"field": "leg"}}},
        {"transform": [{"filter": "datum.to === 'HG'"}], "mark": {"type": "text", "fontSize": 98, "align": "center", "dx": 138.8, "dy": 42}, "encoding": {"x": {"field": "from", "type": "nominal", "scale": {"domain": ["NG", "IFG", "HG"]}}, "y": {"field": "starY", "type": "quantitative"}, "text": {"field": "stars"}}},
        {"transform": [{"filter": "datum.to === 'IFG'"}], "mark": {"type": "text", "fontSize": 98, "align": "center", "dx": 69.4, "dy": 42}, "encoding": {"x": {"field": "from", "type": "nominal", "scale": {"domain": ["NG", "IFG", "HG"]}}, "y": {"field": "starY", "type": "quantitative"}, "text": {"field": "stars"}}},
        {"transform": [{"filter": "datum.group === 'NG'"}], "mark": {"type": "text", "fontSize": 75, "align": "left", "color": "black", "dx": -220}, "encoding": {"x": {"field": "group", "type": "nominal", "scale": {"domain": ["NG", "IFG", "HG"]}}, "y": {"datum": 0.387}, "text": {"field": "panel"}}}
      ]},
      {"transform": [{"filter": {"field": "panel", "equal": "L"}}], "width": 464, "height": 640, "layer": [
        {"transform": [{"filter": "isValid(datum.mean)"}], "mark": "bar", "encoding": {"x": {"field": "group", "type": "nominal", "title": null, "scale": {"domain": ["NG", "IFG", "HG"], "paddingInner": 0.41, "paddingOuter": 0.377}}, "y": {"field": "mean", "type": "quantitative", "title": "APRI score (ALT)", "scale": {"domain": [0.15, 0.35], "zero": false, "nice": false}, "axis": {"values": [0.15, 0.2, 0.25, 0.3, 0.35], "format": ".2f"}}, "y2": {"datum": 0.15}, "fill": {"field": "group", "type": "nominal", "scale": {"domain": ["NG", "IFG", "HG"], "range": ["#ffffff", "#b3f7c8", "#00c000"]}, "legend": null}}},
        {"transform": [{"filter": "isValid(datum.mean)"}], "mark": {"type": "rule", "color": "#333333", "strokeWidth": 3, "strokeCap": "butt", "clip": true}, "encoding": {"x": {"field": "group", "type": "nominal", "scale": {"domain": ["NG", "IFG", "HG"]}}, "y": {"field": "lo", "type": "quantitative"}, "y2": {"field": "hi"}}},
        {"transform": [{"filter": "isValid(datum.mean)"}, {"fold": ["lo", "hi"], "as": ["end", "val"]}], "mark": {"type": "tick", "size": 53, "clip": true}, "encoding": {"x": {"field": "group", "type": "nominal", "scale": {"domain": ["NG", "IFG", "HG"]}}, "y": {"field": "val", "type": "quantitative"}}},
        {"transform": [{"filter": "isValid(datum.line)"}], "mark": "rule", "encoding": {"x": {"field": "from", "type": "nominal", "scale": {"domain": ["NG", "IFG", "HG"]}}, "x2": {"field": "to"}, "y": {"field": "line", "type": "quantitative"}}},
        {"transform": [{"filter": "isValid(datum.line)"}, {"fold": ["from", "to"], "as": ["end", "grp"]}], "mark": "rule", "encoding": {"x": {"field": "grp", "type": "nominal", "scale": {"domain": ["NG", "IFG", "HG"]}}, "y": {"field": "line", "type": "quantitative"}, "y2": {"field": "leg"}}},
        {"transform": [{"filter": "datum.to === 'HG'"}], "mark": {"type": "text", "fontSize": 98, "align": "center", "dx": 138.8, "dy": 42}, "encoding": {"x": {"field": "from", "type": "nominal", "scale": {"domain": ["NG", "IFG", "HG"]}}, "y": {"field": "starY", "type": "quantitative"}, "text": {"field": "stars"}}},
        {"transform": [{"filter": "datum.to === 'IFG'"}], "mark": {"type": "text", "fontSize": 98, "align": "center", "dx": 69.4, "dy": 42}, "encoding": {"x": {"field": "from", "type": "nominal", "scale": {"domain": ["NG", "IFG", "HG"]}}, "y": {"field": "starY", "type": "quantitative"}, "text": {"field": "stars"}}},
        {"transform": [{"filter": "datum.group === 'NG'"}], "mark": {"type": "text", "fontSize": 75, "align": "left", "color": "black", "dx": -220}, "encoding": {"x": {"field": "group", "type": "nominal", "scale": {"domain": ["NG", "IFG", "HG"]}}, "y": {"datum": 0.387}, "text": {"field": "panel"}}}
      ]}
    ]}
  ]
}
